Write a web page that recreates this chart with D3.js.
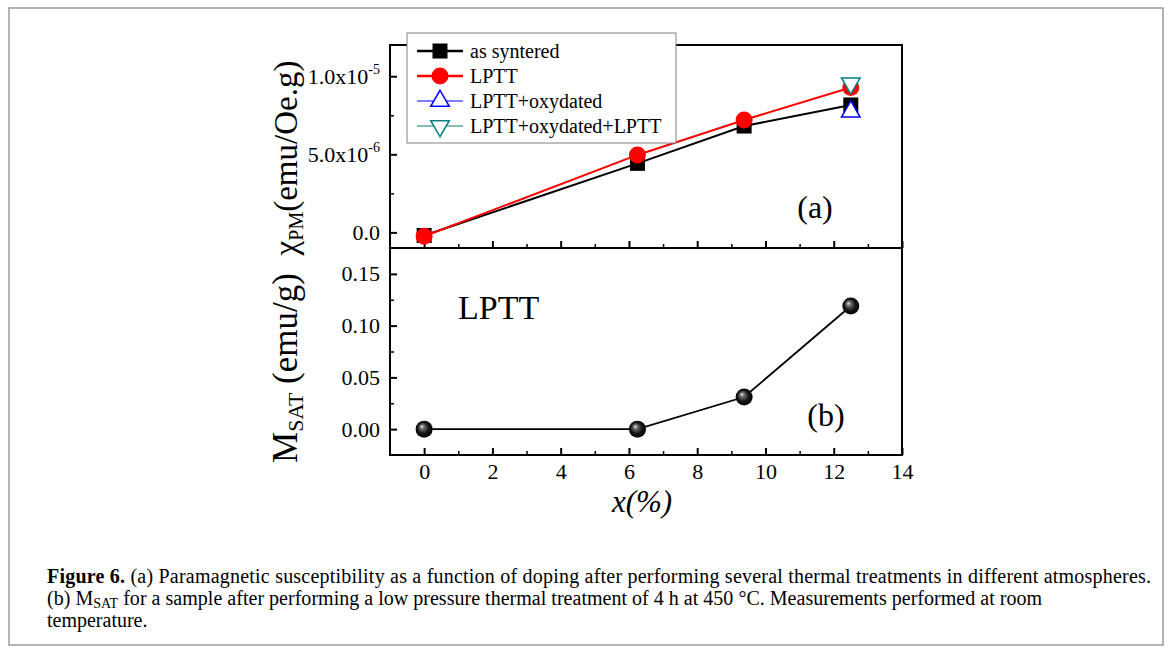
<!DOCTYPE html>
<html>
<head>
<meta charset="utf-8">
<script src="https://cdn.jsdelivr.net/npm/d3@7"></script>
<style>
body { margin: 0; background: #fff; }
svg text { font-family: "Liberation Serif", "Times New Roman", serif; fill: #000; }
</style>
</head>
<body>
<div id="chart"></div>
<script>
const width = 1171;
const height = 652;

// doping x (%)
var doping = [0, 6.25, 9.375, 12.5];
var asSintered = [-0.2e-6, 4.42e-6, 6.81e-6, 8.16e-6];
var lptt = [-0.25e-6, 4.96e-6, 7.2e-6, 9.28e-6];
var oxyDoping = [12.5];
var lpttOxy = [7.73e-6];
var lpttOxyLptt = [9.55e-6];
var msat = [0, 0, 0.031, 0.119];

var seriesNames = ["as syntered", "LPTT", "LPTT+oxydated", "LPTT+oxydated+LPTT"];
var xTicks = [0, 2, 4, 6, 8, 10, 12, 14];
var xMinor = [1, 3, 5, 7, 9, 11, 13];
var topTicks = [0, 5e-6, 1e-5];
var topTickMant = ["0.0", "5.0x10", "1.0x10"];
var topTickExp = ["", "-6", "-5"];
var topMinor = [2.5e-6, 7.5e-6];
var botTicks = [0, 0.05, 0.10, 0.15];
var botMinor = [0.025, 0.075, 0.125];

var svg = d3.select("#chart").append("svg")
    .attr("width", width)
    .attr("height", height);

// figure frame
svg.append("rect")
    .attr("x", 9).attr("y", 8)
    .attr("width", 1154).attr("height", 637)
    .attr("fill", "none")
    .attr("stroke", "#9a9a9a")
    .attr("stroke-width", 1.5);

var x = d3.scaleLinear().domain([-1, 14]).range([390, 902]);
var yTop = d3.scaleLinear().domain([-1e-6, 1.2e-5]).range([248, 45]);
var yBot = d3.scaleLinear().domain([-0.025, 0.175]).range([455, 248]);

function styleAxis(g, w) {
    g.select(".domain").remove();
    g.selectAll(".tick line").attr("stroke", "#000").attr("stroke-width", w);
    g.selectAll(".tick text").attr("font-size", 22).attr("font-family", "Liberation Serif").attr("fill", "#000");
}

// ---- x axes (bottom of each panel), ticks point inward
svg.append("g")
    .attr("transform", "translate(0,455)")
    .call(d3.axisBottom(x).tickValues(xTicks).tickSizeInner(-7).tickSizeOuter(0).tickPadding(8))
    .call(styleAxis, 2);
svg.append("g")
    .attr("transform", "translate(0,455)")
    .call(d3.axisBottom(x).tickValues(xMinor).tickSizeInner(-4).tickSizeOuter(0).tickFormat(""))
    .call(styleAxis, 1.5);
svg.append("g")
    .attr("transform", "translate(0,248)")
    .call(d3.axisBottom(x).tickValues(xTicks).tickSizeInner(-7).tickSizeOuter(0).tickFormat(""))
    .call(styleAxis, 2);
svg.append("g")
    .attr("transform", "translate(0,248)")
    .call(d3.axisBottom(x).tickValues(xMinor).tickSizeInner(-4).tickSizeOuter(0).tickFormat(""))
    .call(styleAxis, 1.5);

// ---- y axes
var topAxis = svg.append("g")
    .attr("transform", "translate(390,0)")
    .call(d3.axisLeft(yTop).tickValues(topTicks).tickSizeInner(-7).tickSizeOuter(0).tickPadding(10)
        .tickFormat(function(d, i) { return topTickMant[i]; }))
    .call(styleAxis, 2);
topAxis.selectAll(".tick text").each(function(d, i) {
    if (topTickExp[i]) {
        d3.select(this).append("tspan")
            .attr("dy", "-10")
            .attr("font-size", 14)
            .text(topTickExp[i]);
    }
});
svg.append("g")
    .attr("transform", "translate(390,0)")
    .call(d3.axisLeft(yTop).tickValues(topMinor).tickSizeInner(-4).tickSizeOuter(0).tickFormat(""))
    .call(styleAxis, 1.5);

svg.append("g")
    .attr("transform", "translate(390,0)")
    .call(d3.axisLeft(yBot).tickValues(botTicks).tickSizeInner(-7).tickSizeOuter(0).tickPadding(10)
        .tickFormat(d3.format(".2f")))
    .call(styleAxis, 2);
svg.append("g")
    .attr("transform", "translate(390,0)")
    .call(d3.axisLeft(yBot).tickValues(botMinor).tickSizeInner(-4).tickSizeOuter(0).tickFormat(""))
    .call(styleAxis, 1.5);

// panel frames
svg.append("rect")
    .attr("x", x(-1)).attr("y", yTop(1.2e-5))
    .attr("width", x(14) - x(-1)).attr("height", yTop(-1e-6) - yTop(1.2e-5))
    .attr("fill", "none").attr("stroke", "#000").attr("stroke-width", 2);
svg.append("rect")
    .attr("x", x(-1)).attr("y", yBot(0.175))
    .attr("width", x(14) - x(-1)).attr("height", yBot(-0.025) - yBot(0.175))
    .attr("fill", "none").attr("stroke", "#000").attr("stroke-width", 2);

// ---- top panel: susceptibility
var lineTop = d3.line()
    .x(function(d) { return x(d[0]); })
    .y(function(d) { return yTop(d[1]); });

svg.append("path")
    .attr("d", lineTop(d3.zip(doping, asSintered)))
    .attr("fill", "none").attr("stroke", "#000").attr("stroke-width", 2);
svg.append("path")
    .attr("d", lineTop(d3.zip(doping, lptt)))
    .attr("fill", "none").attr("stroke", "#ff0000").attr("stroke-width", 2);

var square = d3.symbol().type(d3.symbolSquare).size(225);
var tri = d3.symbol().type(d3.symbolTriangle).size(150);

svg.append("g").selectAll("path")
    .data(d3.zip(doping, asSintered))
    .join("path")
    .attr("d", square)
    .attr("transform", function(d) { return "translate(" + x(d[0]) + "," + yTop(d[1]) + ")"; })
    .attr("fill", "#000");

svg.append("g").selectAll("circle")
    .data(d3.zip(doping, lptt))
    .join("circle")
    .attr("cx", function(d) { return x(d[0]); })
    .attr("cy", function(d) { return yTop(d[1]); })
    .attr("r", 8.5)
    .attr("fill", "#ff0000");

svg.append("g").selectAll("path")
    .data(d3.zip(oxyDoping, lpttOxy))
    .join("path")
    .attr("d", tri)
    .attr("transform", function(d) { return "translate(" + x(d[0]) + "," + yTop(d[1]) + ")"; })
    .attr("fill", "#fff").attr("stroke", "#0000ff").attr("stroke-width", 1.5);

svg.append("g").selectAll("path")
    .data(d3.zip(oxyDoping, lpttOxyLptt))
    .join("path")
    .attr("d", tri)
    .attr("transform", function(d) { return "translate(" + x(d[0]) + "," + yTop(d[1]) + ") rotate(180)"; })
    .attr("fill", "#fff").attr("stroke", "#008080").attr("stroke-width", 1.5);

// legend
var legend = svg.append("g").attr("transform", "translate(407,33)");
legend.append("rect")
    .attr("width", 269).attr("height", 110)
    .attr("fill", "#fff").attr("stroke", "#808080").attr("stroke-width", 1);

var legColors = ["#000", "#ff0000", "#0000ff", "#008080"];
var legWidths = [2.5, 2.5, 1.2, 1.2];
var rows = legend.selectAll("g.row")
    .data(seriesNames)
    .join("g")
    .attr("class", "row")
    .attr("transform", function(d, i) { return "translate(0," + (18 + i * 25) + ")"; });
rows.append("line")
    .attr("x1", 10).attr("x2", 56)
    .attr("stroke", function(d, i) { return legColors[i]; })
    .attr("stroke-width", function(d, i) { return legWidths[i]; });
rows.each(function(d, i) {
    var r = d3.select(this);
    if (i == 0) r.append("path").attr("d", square).attr("transform", "translate(33,0)").attr("fill", "#000");
    if (i == 1) r.append("circle").attr("cx", 33).attr("r", 8.5).attr("fill", "#ff0000");
    if (i == 2) r.append("path").attr("d", tri).attr("transform", "translate(33,0)")
        .attr("fill", "#fff").attr("stroke", "#0000ff").attr("stroke-width", 1.5);
    if (i == 3) r.append("path").attr("d", tri).attr("transform", "translate(33,0) rotate(180)")
        .attr("fill", "#fff").attr("stroke", "#008080").attr("stroke-width", 1.5);
});
rows.append("text")
    .attr("x", 63).attr("y", 7)
    .attr("font-size", 20)
    .text(function(d) { return d; });

// ---- bottom panel: saturation magnetisation
var defs = svg.append("defs");
var grad = defs.append("radialGradient")
    .attr("id", "ball")
    .attr("cx", "50%").attr("cy", "50%").attr("r", "55%")
    .attr("fx", "35%").attr("fy", "33%");
grad.append("stop").attr("offset", "0%").attr("stop-color", "#e8e8e8");
grad.append("stop").attr("offset", "25%").attr("stop-color", "#6a6a6a");
grad.append("stop").attr("offset", "60%").attr("stop-color", "#151515");
grad.append("stop").attr("offset", "100%").attr("stop-color", "#000");

var lineBot = d3.line()
    .x(function(d) { return x(d[0]); })
    .y(function(d) { return yBot(d[1]); });
svg.append("path")
    .attr("d", lineBot(d3.zip(doping, msat)))
    .attr("fill", "none").attr("stroke", "#000").attr("stroke-width", 1.8);
svg.append("g").selectAll("circle")
    .data(d3.zip(doping, msat))
    .join("circle")
    .attr("cx", function(d) { return x(d[0]); })
    .attr("cy", function(d) { return yBot(d[1]); })
    .attr("r", 8.5)
    .attr("fill", "url(#ball)");

// panel labels
svg.append("text").attr("x", 815).attr("y", 218).attr("text-anchor", "middle")
    .attr("font-size", 32).text("(a)");
svg.append("text").attr("x", 826).attr("y", 426).attr("text-anchor", "middle")
    .attr("font-size", 32).text("(b)");
svg.append("text").attr("x", 458).attr("y", 319)
    .attr("font-size", 34).text("LPTT");

// axis titles
var t1 = svg.append("text")
    .attr("transform", "translate(297,158) rotate(-90)")
    .attr("text-anchor", "middle")
    .attr("font-size", 33);
t1.append("tspan").text("\u03c7");
t1.append("tspan").attr("font-size", 20).attr("dy", 6).text("PM");
t1.append("tspan").attr("dy", -6).text("(emu/Oe.g)");

var t2 = svg.append("text")
    .attr("transform", "translate(297,368) rotate(-90)")
    .attr("text-anchor", "middle")
    .attr("font-size", 35);
t2.append("tspan").text("M");
t2.append("tspan").attr("font-size", 22).attr("dy", 6).text("SAT");
t2.append("tspan").attr("dy", -6).text(" (emu/g)");

svg.append("text")
    .attr("x", 642).attr("y", 512)
    .attr("text-anchor", "middle")
    .attr("font-size", 31)
    .attr("font-style", "italic")
    .text("x(%)");

// caption
var cap1 = svg.append("text")
    .attr("x", 47).attr("y", 583)
    .attr("font-size", 20)
    .attr("textLength", 1104).attr("lengthAdjust", "spacing");
cap1.append("tspan").attr("font-weight", "bold").text("Figure 6.");
cap1.append("tspan").text(" (a) Paramagnetic susceptibility as a function of doping after performing several thermal treatments in different atmospheres.");

var cap2 = svg.append("text")
    .attr("x", 47).attr("y", 605)
    .attr("font-size", 20)
    .attr("textLength", 995).attr("lengthAdjust", "spacing");
cap2.append("tspan").text("(b) M");
cap2.append("tspan").attr("font-size", 14).attr("dy", 3).text("SAT");
cap2.append("tspan").attr("dy", -3).text(" for a sample after performing a low pressure thermal treatment of 4 h at 450 \u00b0C. Measurements performed at room");

svg.append("text")
    .attr("x", 47).attr("y", 627)
    .attr("font-size", 20)
    .text("temperature.");
</script>
</body>
</html>
